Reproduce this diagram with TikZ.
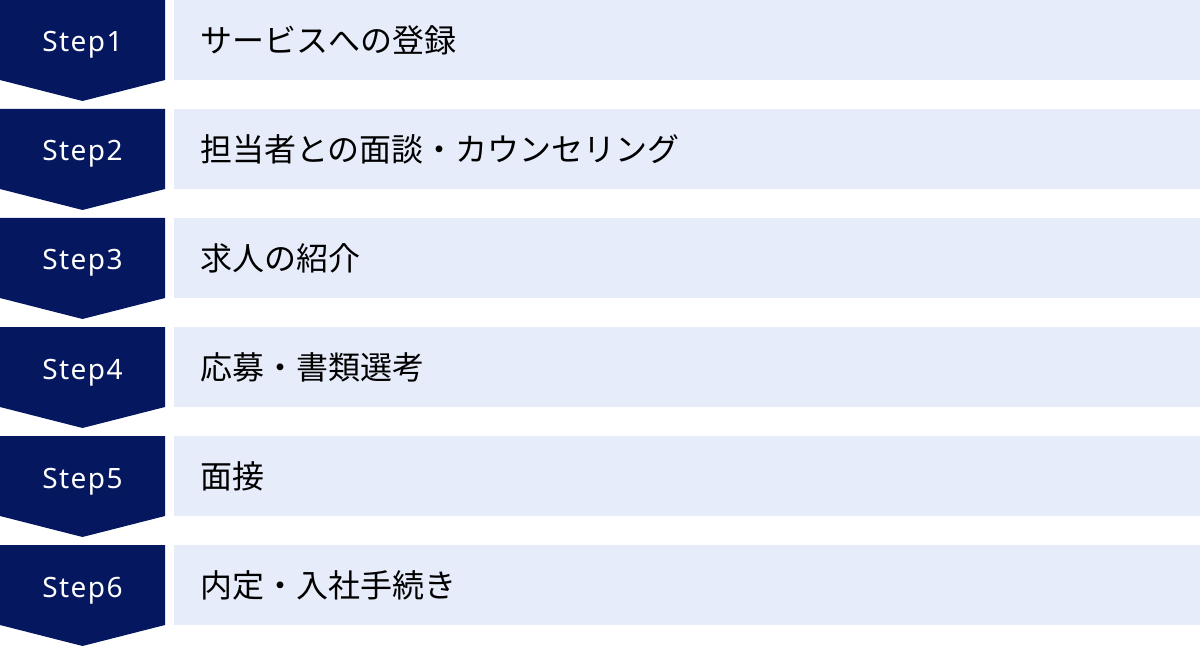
\documentclass[tikz,border=0pt]{standalone}
\usepackage{fontspec}
\setmainfont{Noto Sans CJK JP}
\newfontfamily\stepfont{Noto Sans}[LetterSpace=5]
\definecolor{stepnavy}{HTML}{04175F}
\definecolor{barblue}{HTML}{E6ECF9}
\tikzset{
	steplabel/.style={text=white, anchor=base, inner sep=0pt, font=\stepfont\fontsize{28}{32}\selectfont},
	bartext/.style={anchor=west, inner sep=0pt, font=\fontsize{32}{36}\selectfont},
}
\begin{document}
\begin{tikzpicture}[x=1pt, y=-1pt]
	\useasboundingbox (0,0) rectangle (1200,647);
	%one row per step: chevron on the left, bar with its text on the right
	\foreach \i/\txt in {1/サービスへの登録, 2/担当者との面談・カウンセリング, 3/求人の紹介, 4/応募・書類選考, 5/面接, 6/内定・入社手続き}{
		\pgfmathsetmacro\top{(\i-1)*109}
		\fill[stepnavy] (0,\top) -- (165,\top) -- (165,\top+80) -- (82.5,\top+101) -- (0,\top+80) -- cycle;
		\fill[barblue] (174,\top) rectangle (1200,\top+80);
		\node[steplabel] (step\i) at (82.5,\top+52) {Step\i};
		\node[bartext] (bar\i) at (200,\top+40) {\txt};
	}
\end{tikzpicture}
\end{document}
